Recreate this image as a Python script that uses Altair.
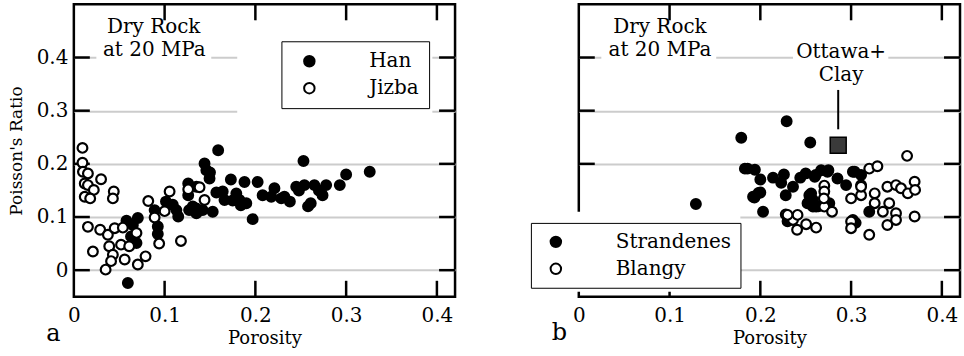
import altair as alt
import pandas as pd

FONT = "DejaVu Serif"

# ---------------- data: panel a ----------------
han_x = [0.058, 0.0705, 0.065, 0.063, 0.069, 0.0595, 0.089, 0.0925, 0.0925, 0.1015,
         0.109, 0.115, 0.126, 0.131, 0.113, 0.126, 0.135, 0.159, 0.144, 0.146,
         0.150, 0.1495, 0.173, 0.188, 0.2025, 0.157, 0.166, 0.179, 0.190, 0.1825,
         0.131, 0.142, 0.153, 0.197, 0.208, 0.221, 0.2175, 0.2285, 0.238, 0.245,
         0.254, 0.253, 0.265, 0.278, 0.274, 0.261, 0.258, 0.293, 0.300, 0.326,
         0.135, 0.135, 0.127, 0.164, 0.175, 0.184, 0.232, 0.248, 0.270]
han_y = [0.093, 0.098, 0.085, 0.0635, 0.051, -0.024, 0.113, 0.082, 0.068, 0.129,
         0.123, 0.101, 0.163, 0.113, 0.113, 0.141, 0.116, 0.2255, 0.2005, 0.188,
         0.184, 0.1725, 0.1705, 0.166, 0.166, 0.146, 0.132, 0.1445, 0.126, 0.132,
         0.120, 0.113, 0.110, 0.096, 0.141, 0.154, 0.138, 0.135, 0.129, 0.157,
         0.160, 0.2055, 0.160, 0.160, 0.141, 0.126, 0.120, 0.160, 0.180, 0.185,
         0.157, 0.107, 0.113, 0.148, 0.131, 0.122, 0.138, 0.150, 0.150]
jizba_x = [0.0095, 0.0095, 0.010, 0.0155, 0.012, 0.0155, 0.022, 0.012, 0.018, 0.030,
           0.044, 0.043, 0.0155, 0.029, 0.021, 0.0375, 0.045, 0.039, 0.043, 0.035,
           0.041, 0.054, 0.052, 0.061, 0.069, 0.056, 0.0705, 0.079, 0.082, 0.089,
           0.1055, 0.100, 0.094, 0.118, 0.126, 0.1385, 0.144]
jizba_y = [0.230, 0.202, 0.185, 0.182, 0.163, 0.160, 0.151, 0.138, 0.135, 0.171,
           0.148, 0.135, 0.0815, 0.076, 0.035, 0.0665, 0.079, 0.045, 0.029, 0.001,
           0.017, 0.080, 0.048, 0.045, 0.070, 0.020, 0.0105, 0.026, 0.130, 0.099,
           0.148, 0.111, 0.050, 0.055, 0.152, 0.156, 0.132]

# ---------------- data: panel b ----------------
str_x = [0.129, 0.179, 0.229, 0.255, 0.186, 0.194, 0.200, 0.200, 0.1935, 0.203,
         0.226, 0.223, 0.228, 0.236, 0.244, 0.254, 0.252, 0.260, 0.267, 0.2615,
         0.261, 0.274, 0.285, 0.2945, 0.302, 0.311, 0.256, 0.258, 0.276, 0.320,
         0.302, 0.192, 0.183, 0.214, 0.250, 0.198, 0.230, 0.258, 0.264, 0.305,
         0.275, 0.304]
str_y = [0.1245, 0.249, 0.280, 0.240, 0.191, 0.189, 0.1705, 0.146, 0.1365, 0.110,
         0.180, 0.1645, 0.141, 0.157, 0.174, 0.141, 0.126, 0.1755, 0.188, 0.1195,
         0.179, 0.185, 0.1725, 0.160, 0.185, 0.179, 0.1445, 0.1195, 0.126, 0.110,
         0.0945, 0.138, 0.191, 0.174, 0.182, 0.145, 0.092, 0.132, 0.120, 0.089,
         0.188, 0.185]
bla_x = [0.228, 0.236, 0.241, 0.2405, 0.2505, 0.2615, 0.2705, 0.2705, 0.320, 0.329,
         0.3617, 0.2705, 0.279, 0.311, 0.300, 0.311, 0.326, 0.340, 0.3495, 0.355,
         0.3625, 0.370, 0.3705, 0.326, 0.342, 0.335, 0.3495, 0.3495, 0.340, 0.300,
         0.300, 0.320, 0.370, 0.230, 0.270, 0.311]
bla_y = [0.105, 0.0945, 0.104, 0.076, 0.0865, 0.080, 0.159, 0.1195, 0.191, 0.1955,
         0.215, 0.148, 0.110, 0.160, 0.135, 0.141, 0.1445, 0.157, 0.160, 0.154,
         0.1445, 0.1665, 0.151, 0.126, 0.126, 0.110, 0.107, 0.0945, 0.085, 0.0915,
         0.079, 0.0665, 0.101, 0.104, 0.135, 0.157]
ottawa_x = [0.2858]
ottawa_y = [0.235]

x_ticks = [0, 0.1, 0.2, 0.3, 0.4]
y_ticks = [0, 0.1, 0.2, 0.3, 0.4]
X_DOMAIN = [0, 0.42]
Y_DOMAIN = [-0.05, 0.5]
# inward tick lengths expressed in data units (about 16 px)
X_TICK_LEN = 0.0176
Y_TICK_LEN = 0.030

W, H = 382, 293

xs = alt.Scale(domain=X_DOMAIN, nice=False, zero=False)
ys = alt.Scale(domain=Y_DOMAIN, nice=False, zero=False)

LABEL_FMT = ".1~f"

x_axis = alt.Axis(values=x_ticks, format=LABEL_FMT, grid=False, domain=False,
                  ticks=False, tickSize=0,
                  labelFont=FONT, labelFontSize=20, labelColor="black", labelPadding=9,
                  labelFlush=False, labelOverlap=False,
                  title="Porosity", titleFont=FONT, titleFontSize=18,
                  titleFontWeight="normal", titleColor="black", titlePadding=4)


def y_axis(show):
    if show:
        return alt.Axis(values=y_ticks, format=LABEL_FMT, grid=True, gridColor="#cccccc",
                        gridWidth=2, domain=False, ticks=False, tickSize=0,
                        labelFont=FONT, labelFontSize=20, labelColor="black",
                        labelPadding=6, labelFlush=False, labelOverlap=False,
                        title="Poisson's Ratio", titleFont=FONT, titleFontSize=17,
                        titleFontWeight="normal", titleColor="black", titlePadding=11)
    return alt.Axis(values=y_ticks, grid=True, gridColor="#cccccc", gridWidth=2,
                    domain=False, ticks=False, tickSize=0, labels=False, title=None)


def panel(names, xa, ya, xb, yb, show_y, legend_pos, masks, texts, panel_letter):
    ya_ax = y_axis(show_y)

    def X(f):
        return alt.X(f, type="quantitative", scale=xs, axis=x_axis)

    def Y(f):
        return alt.Y(f, type="quantitative", scale=ys, axis=ya_ax)

    df = pd.DataFrame({
        "x": xa + xb,
        "y": ya + yb,
        "series": [names[0]] * len(xa) + [names[1]] * len(xb),
    })
    points = alt.Chart(df).mark_circle(
        stroke="black", strokeWidth=2.2, opacity=1, size=95
    ).encode(
        x=X("x"), y=Y("y"),
        fill=alt.Fill("series:N",
                      scale=alt.Scale(domain=names, range=["black", "white"]),
                      legend=alt.Legend(title=None, orient="none",
                                        legendX=legend_pos[0], legendY=legend_pos[1],
                                        fillColor="white", strokeColor="black",
                                        padding=legend_pos[2], symbolOffset=legend_pos[3],
                                        labelOffset=50, labelFont=FONT, labelFontSize=20,
                                        labelColor="black", labelLimit=400,
                                        symbolType="circle", symbolSize=110,
                                        symbolStrokeColor="black", symbolStrokeWidth=2,
                                        rowPadding=7)),
    )

    # inward tick marks along the frame (bottom/top and left/right)
    xt = [v for v in x_ticks if v > 0]
    tick_x = pd.DataFrame({
        "x": xt * 2,
        "y": [Y_DOMAIN[0]] * len(xt) + [Y_DOMAIN[1]] * len(xt),
        "y2": [Y_DOMAIN[0] + Y_TICK_LEN] * len(xt) + [Y_DOMAIN[1] - Y_TICK_LEN] * len(xt),
    })
    tick_y = pd.DataFrame({
        "x": [X_DOMAIN[0]] * len(y_ticks) + [X_DOMAIN[1]] * len(y_ticks),
        "x2": [X_DOMAIN[0] + X_TICK_LEN] * len(y_ticks) + [X_DOMAIN[1] - X_TICK_LEN] * len(y_ticks),
        "y": y_ticks * 2,
    })
    ticks_v = alt.Chart(tick_x).mark_rule(color="black", strokeWidth=2.5).encode(
        x=X("x"), y=Y("y"), y2="y2:Q")
    ticks_h = alt.Chart(tick_y).mark_rule(color="black", strokeWidth=2.5).encode(
        x=X("x"), x2="x2:Q", y=Y("y"))

    mask_df = pd.DataFrame(masks, columns=["x", "x2", "y", "y2"])
    mask = alt.Chart(mask_df).mark_rect(fill="white", strokeWidth=0, clip=False).encode(
        x=X("x"), x2="x2:Q", y=Y("y"), y2="y2:Q")

    text_df = pd.DataFrame(texts, columns=["x", "y", "label"])
    txt = alt.Chart(text_df).mark_text(font=FONT, fontSize=20, color="black",
                                       align="center", baseline="alphabetic").encode(
        x=X("x"), y=Y("y"), text="label:N")

    letter_df = pd.DataFrame([panel_letter], columns=["x", "y", "label"])
    letter = alt.Chart(letter_df).mark_text(font=FONT, fontSize=24, color="black",
                                            align="center", baseline="middle").encode(
        x=X("x"), y=Y("y"), text="label:N")

    return [ticks_v, ticks_h, points, mask, txt, letter], X, Y


dry_texts_a = [(0.088, 0.447, "Dry Rock"), (0.0887, 0.403, "at 20 MPa")]
dry_texts_b = [(0.0894, 0.447, "Dry Rock"), (0.0894, 0.403, "at 20 MPa")]

layers_a, Xa, Ya = panel(
    ["Han", "Jizba"], han_x, han_y, jizba_x, jizba_y, True,
    (208, 37, 10, 8),
    [(0.0248, 0.1514, 0.385, 0.415), (0.180, 0.395, 0.28, 0.44)],
    dry_texts_a,
    (-0.0226, -0.121, "a"),
)

layers_b, Xb, Yb = panel(
    ["Strandenes", "Blangy"], str_x, str_y, bla_x, bla_y, False,
    (-48, 219, 9, 6),
    [(0.0248, 0.1514, 0.385, 0.415), (0.236, 0.341, 0.385, 0.415),
     (-0.06, 0.178, -0.0405, 0.11)],
    dry_texts_b + [(0.289, 0.399, "Ottawa+"), (0.289, 0.355, "Clay")],
    (-0.0215, -0.1175, "b"),
)

ott_df = pd.DataFrame({"x": ottawa_x, "y": ottawa_y})
ott_square = alt.Chart(ott_df).mark_square(size=256, fill="#3a3a3a", stroke="black",
                                            strokeWidth=1.5, opacity=1).encode(
    x=Xb("x"), y=Yb("y"))
lead_df = pd.DataFrame({"x": ottawa_x, "y": [0.265], "y2": [0.339]})
ott_line = alt.Chart(lead_df).mark_rule(color="black", strokeWidth=2).encode(
    x=Xb("x"), y=Yb("y"), y2="y2:Q")

left = alt.layer(*layers_a).properties(width=W, height=H)
right = alt.layer(*layers_b[:2], ott_line, ott_square, *layers_b[2:]).properties(width=W, height=H)

chart = alt.hconcat(left, right, spacing=124, bounds="flush").resolve_scale(
    fill="independent"
).configure_view(
    stroke="black", strokeWidth=2.5
).properties(
    padding={"left": 5, "top": 1, "right": 1, "bottom": 0},
    background="white",
)

chart.save("out.html", embed_options={"renderer": "svg", "actions": False})
